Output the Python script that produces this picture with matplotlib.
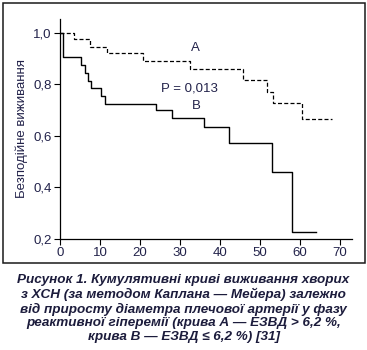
import matplotlib
matplotlib.use("Agg")
import matplotlib.pyplot as plt
from matplotlib.patches import Rectangle

# Data (Kaplan-Meier curves)
time_a = [0, 3.5, 7.5, 11.8, 20.7, 32.5, 45.7, 51.7, 53.3, 60.4, 68.1]
surv_a = [1.0, 0.977, 0.946, 0.92, 0.891, 0.86, 0.818, 0.771, 0.728, 0.664, 0.664]

time_b = [0, 0.8, 5.2, 6.25, 7.1, 7.75, 10.2, 11.25, 23.9, 27.9, 36.1, 42.2, 52.9, 58.0, 63.9]
surv_b = [1.0, 0.907, 0.874, 0.845, 0.815, 0.787, 0.754, 0.724, 0.699, 0.668, 0.634, 0.573, 0.46, 0.227, 0.227]

x_ticks = [0, 10, 20, 30, 40, 50, 60, 70]
y_ticks = [0.2, 0.4, 0.6, 0.8, 1.0]
y_tick_labels = ["0,2", "0,4", "0,6", "0,8", "1,0"]
y_label = "Безподійне виживання"
p_text = "P = 0,013"
caption = ("Рисунок 1. Кумулятивні криві виживання хворих\n"
           "з ХСН (за методом Каплана — Мейера) залежно\n"
           "від приросту діаметра плечової артерії у фазу\n"
           "реактивної гіперемії (крива А — ЕЗВД > 6,2 %,\n"
           "крива В — ЕЗВД ≤ 6,2 %) [31]")

txt_color = "#22224a"
narrow = ["Liberation Sans Narrow", "Liberation Sans", "DejaVu Sans"]

fig = plt.figure(figsize=(3.67, 3.5), dpi=100)
fig.patch.set_facecolor("white")

# outer frame
fig.add_artist(Rectangle((0.008, 0.249), 0.986, 0.742, transform=fig.transFigure,
                         fill=False, edgecolor="#1a1a1a", linewidth=1.1))

ax = fig.add_axes([0.1635, 0.317, 0.959 - 0.1635, 0.946 - 0.317])
ax.step(time_a, surv_a, where="post", color="black", linewidth=0.9,
        linestyle=(0, (3.2, 1.8)))
ax.step(time_b, surv_b, where="post", color="black", linewidth=1.0)

ax.set_xlim(0, 73)
ax.set_ylim(0.2, 1.054)
ax.set_xticks(x_ticks)
ax.set_xticklabels([str(v) for v in x_ticks], family=narrow, fontsize=9.5, color=txt_color)
ax.set_yticks(y_ticks)
ax.set_yticklabels(y_tick_labels, family=narrow, fontsize=9.5, color=txt_color)
ax.tick_params(direction="out", length=4, width=0.8, pad=2, colors="black")
for lab in ax.get_xticklabels() + ax.get_yticklabels():
    lab.set_color(txt_color)
for s in ["top", "right"]:
    ax.spines[s].set_visible(False)
for s in ["left", "bottom"]:
    ax.spines[s].set_linewidth(0.9)

ax.set_ylabel(y_label, family=narrow, fontsize=9.5, color=txt_color, labelpad=4)

ax.text(33.9, 0.943, "A", family=narrow, fontsize=9.5, color=txt_color, ha="center", va="center")
ax.text(32.3, 0.783, p_text, family=narrow, fontsize=9.5, color=txt_color, ha="center", va="center")
ax.text(34.0, 0.715, "B", family=narrow, fontsize=9.5, color=txt_color, ha="center", va="center")

fig.text(0.5, 0.119, caption, ha="center", va="center", fontsize=9.7,
         fontweight="bold", fontstyle="italic", color="#1c1c3c",
         family=["Liberation Sans", "DejaVu Sans"], linespacing=1.18)

fig.savefig("out.png", dpi=100, facecolor="white")
